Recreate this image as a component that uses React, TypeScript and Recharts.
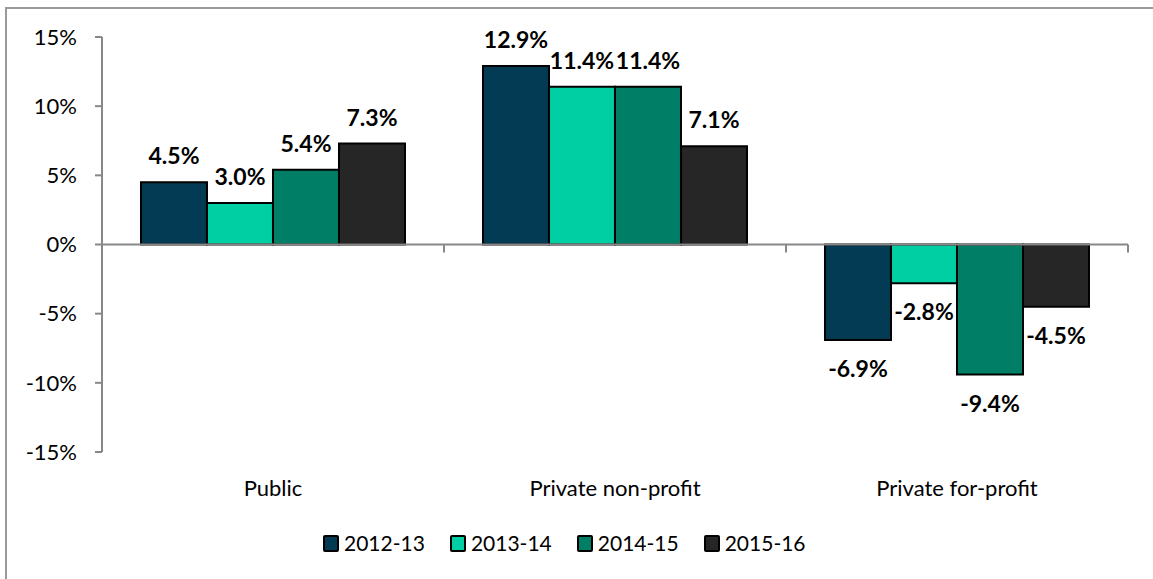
import React from 'react';
import { BarChart, Bar, XAxis, YAxis, ReferenceLine, Legend, LabelList } from 'recharts';

const categories = ['Public', 'Private non-profit', 'Private for-profit'];
const seriesNames = ['2012-13', '2013-14', '2014-15', '2015-16'];
const values2012 = [4.5, 12.9, -6.9];
const values2013 = [3.0, 11.4, -2.8];
const values2014 = [5.4, 11.4, -9.4];
const values2015 = [7.3, 7.1, -4.5];
const yTicks = [-15, -10, -5, 0, 5, 10, 15];
const seriesColors = ['#023B53', '#00CFA4', '#007F66', '#262626'];

const seriesValues = [values2012, values2013, values2014, values2015];
const data = categories.map((c, i) => {
  const row: Record<string, any> = { category: c };
  seriesNames.forEach((s, k) => {
    row[s] = seriesValues[k][i];
  });
  return row;
});

const FONT = 'Lato, "Open Sans", sans-serif';
const AXIS = '#888888';

const BarLabel = (props: any) => {
  const { x, y, width, height, value } = props;
  const top = Math.min(y, y + height);
  const bottom = Math.max(y, y + height);
  const cx = x + width / 2;
  const ty = value >= 0 ? top - 18 : bottom + 37;
  return (
    <text x={cx} y={ty} textAnchor="middle" fontFamily={FONT} fontSize={23} fontWeight={700} fill="#000">
      {value.toFixed(1) + '%'}
    </text>
  );
};

const ZeroLine = (props: any) => {
  const { x1, x2, y1, y2 } = props;
  const n = categories.length;
  const ticks = [];
  for (let i = 1; i <= n; i++) {
    const tx = x1 + ((x2 - x1) * i) / n;
    ticks.push(<line key={i} x1={tx} x2={tx} y1={y1} y2={y1 + 8} stroke={AXIS} strokeWidth={2} />);
  }
  return (
    <g>
      <line x1={x1} x2={x2} y1={y1} y2={y2} stroke={AXIS} strokeWidth={2} />
      {ticks}
    </g>
  );
};

const LegendContent = (props: any) => {
  const { payload } = props;
  return (
    <div style={{ display: 'flex', flexDirection: 'row', alignItems: 'center' }}>
      {(payload || []).map((p: any, i: number) => (
        <div key={i} style={{ display: 'flex', alignItems: 'center', marginRight: 25 }}>
          <div
            style={{
              width: 12,
              height: 13,
              background: p.color,
              border: '2px solid #000',
              borderRadius: 2,
              marginRight: 5,
            }}
          />
          <span style={{ fontFamily: FONT, fontSize: 21, color: '#000', lineHeight: '24px' }}>{p.value}</span>
        </div>
      ))}
    </div>
  );
};

export default function App() {
  return (
    <div style={{ position: 'absolute', left: 0, top: 0, width: 1153, height: 579, background: '#fff', overflow: 'hidden' }}>
      <div
        style={{
          position: 'absolute',
          left: 5,
          top: 7,
          width: 1160,
          height: 590,
          borderTop: '2px solid #9a9a9a',
          borderLeft: '2px solid #9a9a9a',
        }}
      />
      <div style={{ position: 'absolute', left: 0, top: 0 }}>
        <BarChart
          width={1153}
          height={579}
          data={data}
          margin={{ top: 37, right: 25, left: 0, bottom: 0 }}
          barCategoryGap="11.4%"
          barGap={0}
        >
          <XAxis
            dataKey="category"
            height={127}
            axisLine={false}
            tickLine={false}
            tickMargin={22}
            tick={{ fontFamily: FONT, fontSize: 22, fill: '#000' }}
            interval={0}
          />
          <YAxis
            width={102}
            domain={[-15, 15]}
            ticks={yTicks}
            allowDataOverflow
            tickFormatter={(v: number) => `${v}%`}
            axisLine={{ stroke: AXIS, strokeWidth: 2 }}
            tickLine={{ stroke: AXIS, strokeWidth: 2 }}
            tickSize={7}
            tickMargin={18}
            tick={{ fontFamily: FONT, fontSize: 22, fill: '#000' }}
          />
          <ReferenceLine y={0} shape={<ZeroLine />} />
          {seriesNames.map((s, k) => (
            <Bar key={s} dataKey={s} name={s} fill={seriesColors[k]} stroke="#000" strokeWidth={2} isAnimationActive={false}>
              <LabelList dataKey={s} content={<BarLabel />} />
            </Bar>
          ))}
          <Legend
            verticalAlign="middle"
            align="center"
            content={<LegendContent />}
            wrapperStyle={{ position: 'absolute', left: 323, top: 531, width: 'auto' }}
          />
        </BarChart>
      </div>
    </div>
  );
}
